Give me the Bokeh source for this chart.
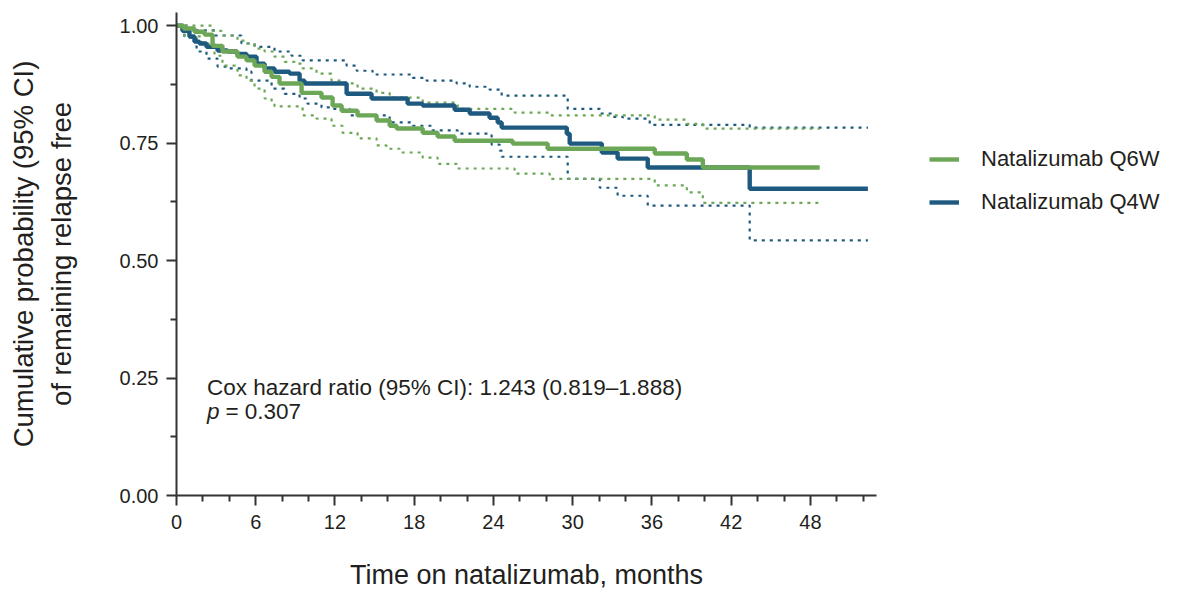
from bokeh.plotting import figure
from bokeh.models import (Legend, LegendItem, FixedTicker, PrintfTickFormatter,
                          Label, Range1d)
from bokeh.embed import file_html
from bokeh.resources import INLINE

# ---------------- data (months, cumulative probability) ----------------
q4w_t = [0, 0.45, 0.98, 1.36, 1.74, 2.27, 3.11, 3.86, 4.55, 5.30, 6.06, 6.67, 7.42,
         8.56, 9.32, 9.70, 12.88, 14.77, 17.5, 18.64, 21.06, 22.2, 23.7, 24.32, 24.62,
         29.55, 29.77, 32.2, 33.4, 35.68, 43.4, 52.35]
q4w_s = [1.0, 0.989, 0.977, 0.966, 0.962, 0.955, 0.947, 0.945, 0.940, 0.934, 0.919, 0.909,
         0.902, 0.898, 0.883, 0.877, 0.855, 0.845, 0.834, 0.830, 0.821, 0.813, 0.804, 0.794,
         0.783, 0.770, 0.749, 0.730, 0.717, 0.698, 0.653, 0.653]

q4w_up_t = [0, 1.0, 2.9, 4.92, 5.91, 7.42, 8.71, 9.55, 12.88, 13.64, 14.85, 17.88, 18.94,
            21.21, 22.2, 23.7, 24.62, 29.62, 32.05, 33.03, 33.79, 35.83, 43.4, 52.35]
q4w_up_s = [1.0, 0.99, 0.979, 0.962, 0.955, 0.945, 0.936, 0.926, 0.915, 0.904, 0.896, 0.889,
            0.883, 0.877, 0.870, 0.864, 0.851, 0.823, 0.813, 0.806, 0.802, 0.789, 0.783, 0.783]

q4w_lo_t = [0, 0.6, 1.52, 2.27, 3.11, 3.86, 5.30, 5.68, 7.2, 8.18, 9.32, 9.92, 10.98, 11.82,
            13.11, 16.14, 17.88, 19.39, 21.29, 23.86, 24.47, 24.62, 29.62, 32.05, 33.4,
            35.68, 43.4, 52.35]
q4w_lo_s = [1.0, 0.975, 0.945, 0.930, 0.913, 0.909, 0.902, 0.883, 0.866, 0.855, 0.845, 0.834,
            0.826, 0.823, 0.809, 0.794, 0.787, 0.777, 0.770, 0.747, 0.734, 0.721, 0.674,
            0.655, 0.638, 0.617, 0.543, 0.543]

q6w_t = [0, 0.53, 1.36, 2.12, 2.73, 3.48, 4.62, 5.30, 5.91, 6.67, 7.2, 7.8, 9.47, 10.98,
         11.82, 12.5, 13.71, 15.15, 16.14, 16.67, 18.64, 19.77, 21.06, 25.45, 28.1, 36.21,
         38.64, 39.85, 48.7]
q6w_s = [1.0, 0.994, 0.987, 0.981, 0.957, 0.945, 0.934, 0.926, 0.915, 0.902, 0.891, 0.877,
         0.857, 0.847, 0.830, 0.819, 0.809, 0.798, 0.787, 0.781, 0.772, 0.764, 0.755, 0.749,
         0.738, 0.728, 0.715, 0.698, 0.698]

q6w_up_t = [0, 2.73, 3.41, 4.62, 5.30, 5.91, 6.67, 7.42, 8.18, 8.94, 9.55, 10.6, 11.74,
            12.73, 13.71, 15.15, 16.14, 18.64, 21.29, 25.6, 28.26, 36.21, 38.64, 39.85, 48.7]
q6w_up_s = [1.0, 0.989, 0.979, 0.968, 0.962, 0.951, 0.945, 0.934, 0.923, 0.919, 0.909, 0.898,
            0.883, 0.877, 0.866, 0.857, 0.847, 0.836, 0.823, 0.815, 0.809, 0.800, 0.791,
            0.781, 0.781]

q6w_lo_t = [0, 0.6, 1.89, 2.88, 3.48, 4.62, 5.30, 5.91, 6.67, 7.2, 7.42, 9.55, 10.6, 11.74,
            12.58, 13.71, 15.15, 15.9, 16.89, 18.64, 19.77, 21.21, 25.6, 28.26, 36.21, 38.64,
            39.85, 48.7]
q6w_lo_s = [1.0, 0.977, 0.962, 0.936, 0.915, 0.894, 0.883, 0.866, 0.845, 0.834, 0.828, 0.809,
            0.802, 0.787, 0.772, 0.760, 0.745, 0.738, 0.730, 0.719, 0.706, 0.696, 0.685,
            0.674, 0.660, 0.645, 0.623, 0.623]

x_major = [0, 6, 12, 18, 24, 30, 36, 42, 48]
x_minor = [2, 4, 8, 10, 14, 16, 20, 22, 26, 28, 32, 34, 38, 40, 44, 46, 50, 52]
y_major = [0, 0.25, 0.5, 0.75, 1.0]
y_minor = [0.125, 0.375, 0.625, 0.875]

labels = ["Natalizumab Q6W", "Natalizumab Q4W"]
hr_text = "Cox hazard ratio (95% CI): 1.243 (0.819\u20131.888)"
p_text = "= 0.307"

# ---------------- style ----------------
GREEN = "#6CA757"
BLUE = "#1E5A80"
TXT = "#231F20"
AX = "#333333"
FONT = "Liberation Sans"

p = figure(frame_width=700, frame_height=483,
           min_border_left=176, min_border_right=293, min_border_top=12, min_border_bottom=95,
           x_range=Range1d(0, 53), y_range=Range1d(0, 1.028),
           output_backend="svg", toolbar_location=None)
p.outline_line_color = None
p.grid.visible = False
p.background_fill_color = "white"
p.border_fill_color = "white"

# CIs
p.step(q4w_up_t, q4w_up_s, mode="after", line_color=BLUE, line_width=2.2, line_dash="3 5")
p.step(q4w_lo_t, q4w_lo_s, mode="after", line_color=BLUE, line_width=2.2, line_dash="3 5")
p.step(q6w_up_t, q6w_up_s, mode="after", line_color=GREEN, line_width=2.2, line_dash="3 5")
p.step(q6w_lo_t, q6w_lo_s, mode="after", line_color=GREEN, line_width=2.2, line_dash="3 5")
# main curves
rb = p.step(q4w_t, q4w_s, mode="after", line_color=BLUE, line_width=4.4)
rg = p.step(q6w_t, q6w_s, mode="after", line_color=GREEN, line_width=4.4)

# axes
p.xaxis.ticker = FixedTicker(ticks=x_major, minor_ticks=x_minor)
p.yaxis.ticker = FixedTicker(ticks=y_major, minor_ticks=y_minor)
p.yaxis.formatter = PrintfTickFormatter(format="%.2f")
for ax in (p.xaxis[0], p.yaxis[0]):
    ax.axis_line_color = AX
    ax.axis_line_width = 2
    ax.major_tick_line_color = AX
    ax.major_tick_line_width = 2
    ax.minor_tick_line_color = AX
    ax.minor_tick_line_width = 2
    ax.major_tick_in = 0
    ax.major_tick_out = 10
    ax.minor_tick_in = 0
    ax.minor_tick_out = 6
    ax.major_label_text_font = FONT
    ax.major_label_text_font_size = "20px"
    ax.major_label_text_color = TXT
    ax.axis_label_text_font = FONT
    ax.axis_label_text_font_style = "normal"
    ax.axis_label_text_color = TXT
p.xaxis.major_label_standoff = 9
p.yaxis.major_label_standoff = 8
p.xaxis.axis_label = "Time on natalizumab, months"
p.xaxis.axis_label_text_font_size = "27px"
p.xaxis.axis_label_standoff = 28
p.yaxis.axis_label = "Cumulative probability (95% CI)\nof remaining relapse free"
p.yaxis.axis_label_text_font_size = "27.5px"
p.yaxis.axis_label_standoff = 40

# annotation
p.add_layout(Label(x=2.3, y=0.230, text=hr_text, text_font=FONT, text_font_size="22.5px",
                   text_color=TXT, text_baseline="middle"))
p.add_layout(Label(x=2.3, y=0.178, text="p", text_font=FONT, text_font_size="22.5px",
                   text_font_style="italic", text_color=TXT, text_baseline="middle"))
p.add_layout(Label(x=2.3, y=0.178, x_offset=18.5, text=p_text, text_font=FONT,
                   text_font_size="22.5px", text_color=TXT, text_baseline="middle"))

legend = Legend(items=[LegendItem(label=labels[0], renderers=[rg]),
                       LegendItem(label=labels[1], renderers=[rb])],
                location=(53, 280), glyph_width=30, glyph_height=20, label_standoff=22,
                spacing=17, label_text_font=FONT, label_text_font_size="22px",
                label_text_color=TXT, border_line_color=None, background_fill_alpha=0,
                padding=0, margin=0)
p.add_layout(legend, "right")

open("out.html", "w").write(file_html(p, INLINE))
